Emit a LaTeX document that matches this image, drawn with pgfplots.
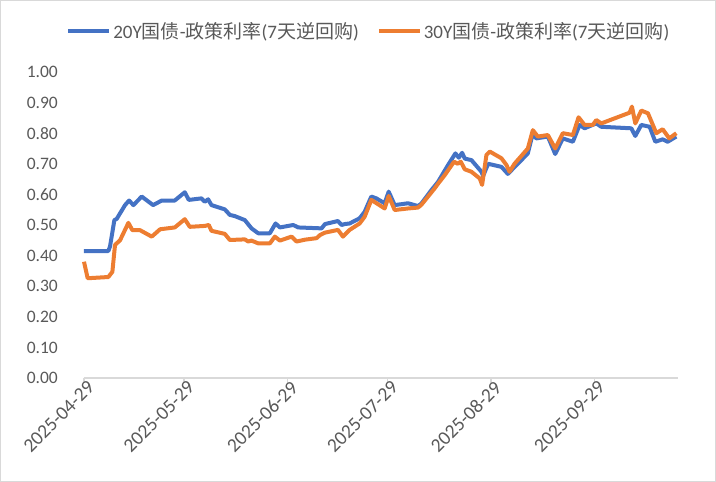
\documentclass[border=0pt]{standalone}
\usepackage{pgfplots}
\pgfplotsset{compat=1.18}
\usepackage{fontspec}
\setmainfont{Carlito}
\newfontfamily\cjk{Noto Sans CJK SC}
\definecolor{sblue}{HTML}{4472C4}
\definecolor{sorange}{HTML}{ED7D31}
\definecolor{txt}{HTML}{595959}
\definecolor{axl}{HTML}{D9D9D9}
\begin{document}
\begin{tikzpicture}
\draw[axl, line width=1bp] (-83.5bp,-103.5bp) rectangle (631.5bp,377.5bp);
\begin{axis}[
  at={(0,0)}, anchor=south west,
  scale only axis, width=594bp, height=306bp,
  xmin=0, xmax=178, ymin=0, ymax=1,
  axis x line*=bottom, axis y line*=left,
  y axis line style={draw=none},
  x axis line style={axl, line width=1.3bp},
  xtick={0,30,61,91,122,153},
  xticklabels={2025-04-29,2025-05-29,2025-06-29,2025-07-29,2025-08-29,2025-09-29},
  ytick={0,0.1,0.2,0.3,0.4,0.5,0.6,0.7,0.8,0.9,1.0},
  ytick style={draw=none},
  xtick style={axl, line width=1.3bp},
  tick align=outside, major tick length=5bp,
  /pgf/number format/.cd, fixed, fixed zerofill, precision=2, assume math mode=true,
  /pgfplots/.cd,
  yticklabel style={font=\fontsize{17.5bp}{20bp}\selectfont, text=txt, inner sep=0pt, xshift=-21bp},
  xticklabel style={font=\fontsize{19.5bp}{22bp}\selectfont, text=txt, rotate=45, anchor=east, inner sep=0pt, xshift=4bp, yshift=-6bp},
  legend style={at={(0.4795,1.134)}, anchor=center, draw=none, fill=none,
    font=\fontsize{19bp}{22bp}\selectfont, text=txt, legend columns=2,
    /tikz/every even column/.append style={column sep=16bp}},
  legend image code/.code={\draw[#1, line width=4bp] (0bp,0bp) -- (41bp,0bp);},
  every axis plot/.append style={line width=4bp, line join=round, no markers},
  clip=false,
]
\addplot[sblue] coordinates {
(0,0.415) (7.3,0.415) (7.8,0.43) (9.1,0.516) (9.8,0.52) (12.3,0.565) (13.5,0.58) (14.8,0.565)
(17.3,0.593) (20.7,0.565) (23.3,0.58) (27.2,0.58) (30.2,0.607) (31.4,0.582) (35.2,0.587)
(36.2,0.576) (37.2,0.584) (38.2,0.565) (42.2,0.551) (43.7,0.533) (45.2,0.529) (48.2,0.516)
(50.2,0.489) (52.2,0.473) (55.7,0.473) (57.4,0.505) (58.7,0.492) (62.7,0.5) (64.2,0.492)
(71.2,0.489) (72.2,0.503) (76.1,0.513) (77.2,0.5) (78.1,0.503) (79.6,0.505) (82.6,0.522)
(84.1,0.543) (86.1,0.593) (87.6,0.587) (90.1,0.571) (91.3,0.609) (93.1,0.565) (97.1,0.571)
(100.1,0.562) (101.1,0.57) (104.1,0.614) (106.1,0.641) (109.1,0.696) (111.3,0.734)
(112.3,0.72) (113.3,0.736) (114.1,0.717) (116.1,0.712) (119.1,0.674) (119.6,0.66)
(121.1,0.70) (125.1,0.69) (127.0,0.667) (130.0,0.70) (133.0,0.734) (134.5,0.80)
(135.5,0.783) (139.0,0.789) (141.2,0.732) (143.5,0.783) (146.5,0.772) (148.5,0.827)
(150.0,0.816) (153.5,0.832) (155.0,0.821) (164.0,0.816) (165.2,0.791) (167.0,0.827)
(169.5,0.821) (171.2,0.772) (173.4,0.78) (174.9,0.772) (177.5,0.789)
};
\addlegendentry{20Y{\cjk 国债}-{\cjk 政策利率}(7{\cjk 天逆回购})}
\addplot[sorange] coordinates {
(0,0.38) (1.1,0.326) (7.3,0.33) (8.5,0.347) (9.3,0.435) (10.8,0.45) (13.3,0.507) (14.5,0.483)
(16.8,0.483) (20.3,0.462) (22.8,0.486) (27.2,0.492) (30.2,0.519) (31.7,0.494) (36.2,0.497)
(37.4,0.5) (38.2,0.481) (42.2,0.471) (43.7,0.451) (48.2,0.453) (49.2,0.446) (50.2,0.449)
(52.2,0.44) (55.7,0.44) (57.2,0.462) (58.7,0.449) (62.2,0.462) (63.7,0.446) (66.2,0.452)
(69.7,0.457) (70.7,0.467) (72.2,0.475) (76.1,0.484) (77.6,0.462) (79.6,0.484) (82.6,0.505)
(84.1,0.527) (86.1,0.582) (90.1,0.554) (91.3,0.595) (93.1,0.549) (97.1,0.554) (100.1,0.557)
(101.1,0.566) (105.1,0.62) (106.1,0.635) (108.1,0.663) (110.9,0.707) (112,0.70) (112.9,0.707)
(114.1,0.682) (116.1,0.674) (118.6,0.652) (119.3,0.631) (120.6,0.729) (121.6,0.74)
(125.1,0.718) (126.6,0.696) (127.5,0.674) (129.0,0.70) (133.0,0.75) (134.5,0.81) (136.0,0.789)
(139.0,0.794) (141.2,0.75) (143.5,0.80) (146.5,0.794) (148.2,0.852) (150,0.827) (152.5,0.827)
(153.5,0.843) (155.0,0.832) (163.5,0.867) (164.2,0.887) (165.2,0.832) (167.0,0.874)
(169.0,0.865) (171.5,0.80) (173.4,0.813) (175.4,0.783) (177.5,0.80)
};
\addlegendentry{30Y{\cjk 国债}-{\cjk 政策利率}(7{\cjk 天逆回购})}
\end{axis}
\end{tikzpicture}
\end{document}
